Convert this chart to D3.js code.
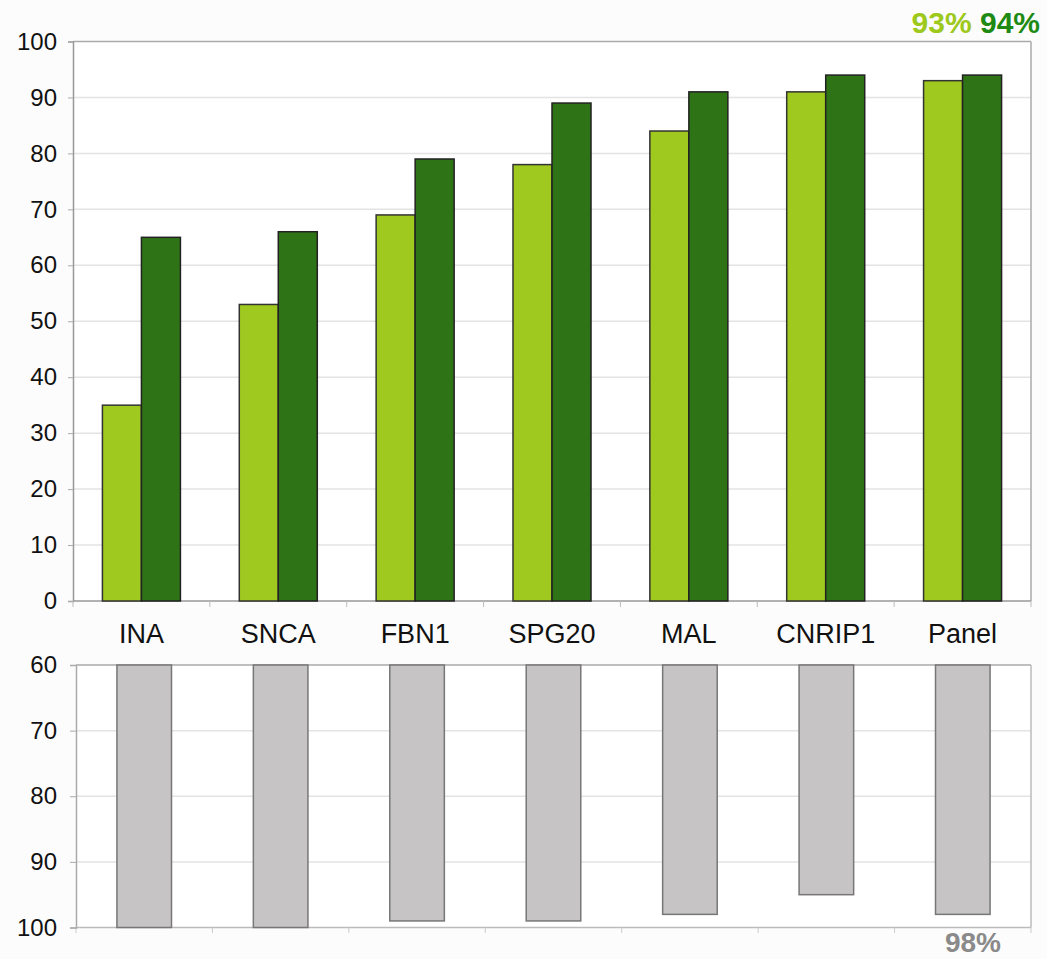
<!DOCTYPE html>
<html><head><meta charset="utf-8">
<script src="https://cdn.jsdelivr.net/npm/d3@7"></script>
<style>body{margin:0;background:#fcfcfc;} svg{display:block;}</style>
</head><body>
<svg id="c" width="1047" height="959"></svg>
<script>
const categories = ["INA","SNCA","FBN1","SPG20","MAL","CNRIP1","Panel"];
const seriesLight = [35,53,69,78,84,91,93];
const seriesDark = [65,66,79,89,91,94,94];
const bottomValues = [100,100,99,99,98,95,98];
const topTicks = [0,10,20,30,40,50,60,70,80,90,100];
const bottomTicks = [60,70,80,90,100];

const svg = d3.select("#c");
const font = "Arial, 'Liberation Sans', sans-serif";
const cLight = "#9fc91e", cDark = "#2f7317", cGray = "#c6c4c5";

// Top chart
const x1 = d3.scaleBand().domain(categories).range([73,1031]);
const y1 = d3.scaleLinear().domain([0,100]).range([601,41.5]);
const g1 = svg.append("g");
g1.append("rect").attr("x",73).attr("y",41.5).attr("width",958).attr("height",559.5).attr("fill","#fff");
g1.selectAll(".grid").data(topTicks.filter(d=>d>0&&d<100)).join("line")
  .attr("x1",73).attr("x2",1031).attr("y1",d=>y1(d)).attr("y2",d=>y1(d))
  .attr("stroke","#e3e3e3").attr("stroke-width",1.5);
g1.append("line").attr("x1",73).attr("x2",1031).attr("y1",41.5).attr("y2",41.5).attr("stroke","#aaa").attr("stroke-width",1.5);
g1.append("line").attr("x1",1031).attr("x2",1031).attr("y1",41.5).attr("y2",601).attr("stroke","#aaa").attr("stroke-width",1.5);
const ax1 = g1.append("g").attr("transform","translate(73,0)")
  .call(d3.axisLeft(y1).tickValues(topTicks).tickSize(5).tickPadding(11));
ax1.select(".domain").attr("stroke","#999").attr("stroke-width",1.5);
ax1.selectAll(".tick line").attr("stroke","#aaa");
ax1.selectAll("text").attr("font-family",font).attr("font-size",24).attr("fill","#111");
// bottom axis
g1.append("line").attr("x1",73).attr("x2",1031).attr("y1",601).attr("y2",601).attr("stroke","#999").attr("stroke-width",1.5);
g1.selectAll(".xt").data(d3.range(categories.length+1)).join("line")
  .attr("x1",i=>73+i*x1.step()).attr("x2",i=>73+i*x1.step()).attr("y1",601).attr("y2",607)
  .attr("stroke","#bbb");
const bw = x1.bandwidth()*0.285;
const grp = g1.selectAll(".grp").data(categories).join("g");
grp.append("rect").attr("x",(d)=>x1(d)+x1.bandwidth()/2-bw).attr("width",bw)
  .attr("y",(d,i)=>y1(seriesLight[i])).attr("height",(d,i)=>y1(0)-y1(seriesLight[i]))
  .attr("fill",cLight).attr("stroke","#333").attr("stroke-width",1.5);
grp.append("rect").attr("x",(d)=>x1(d)+x1.bandwidth()/2).attr("width",bw)
  .attr("y",(d,i)=>y1(seriesDark[i])).attr("height",(d,i)=>y1(0)-y1(seriesDark[i]))
  .attr("fill",cDark).attr("stroke","#222").attr("stroke-width",1.5);
g1.selectAll(".cl").data(categories).join("text")
  .attr("x",d=>x1(d)+x1.bandwidth()/2).attr("y",643).attr("text-anchor","middle")
  .attr("font-family",font).attr("font-size",27).attr("fill","#111").text(d=>d);

// Bottom chart
const x2 = d3.scaleBand().domain(categories).range([76,1031]);
const y2 = d3.scaleLinear().domain([60,100]).range([665,927.5]);
const g2 = svg.append("g");
g2.append("rect").attr("x",76).attr("y",665).attr("width",955).attr("height",262.5).attr("fill","#fff");
g2.selectAll(".grid").data([70,80,90]).join("line")
  .attr("x1",76).attr("x2",1031).attr("y1",d=>y2(d)).attr("y2",d=>y2(d))
  .attr("stroke","#e3e3e3").attr("stroke-width",1.5);
g2.append("line").attr("x1",76).attr("x2",1031).attr("y1",665).attr("y2",665).attr("stroke","#aaa").attr("stroke-width",1.5);
g2.append("line").attr("x1",1031).attr("x2",1031).attr("y1",665).attr("y2",927.5).attr("stroke","#bbb").attr("stroke-width",1.5);
g2.append("line").attr("x1",76).attr("x2",1031).attr("y1",927.5).attr("y2",927.5).attr("stroke","#bbb").attr("stroke-width",1.5);
g2.selectAll(".xt").data(d3.range(categories.length+1)).join("line")
  .attr("x1",i=>76+i*x2.step()).attr("x2",i=>76+i*x2.step()).attr("y1",927.5).attr("y2",933)
  .attr("stroke","#ccc");
const ax2 = g2.append("g").attr("transform","translate(76,0)")
  .call(d3.axisLeft(y2).tickValues(bottomTicks).tickSize(6).tickPadding(13));
ax2.select(".domain").attr("stroke","#aaa").attr("stroke-width",1.5);
ax2.selectAll(".tick line").attr("stroke","#aaa");
ax2.selectAll("text").attr("font-family",font).attr("font-size",24).attr("fill","#111");
const bw2 = x2.bandwidth()*0.4;
g2.selectAll(".gb").data(categories).join("rect")
  .attr("x",d=>x2(d)+x2.bandwidth()/2-bw2/2).attr("width",bw2)
  .attr("y",y2(60)).attr("height",(d,i)=>y2(bottomValues[i])-y2(60))
  .attr("fill",cGray).attr("stroke","#777").attr("stroke-width",1.5);

// Annotations
const ann = svg.append("text").attr("x",1040).attr("y",33).attr("text-anchor","end")
  .attr("font-family",font).attr("font-size",30).attr("font-weight","bold");
ann.append("tspan").attr("fill","#9dc81c").text(seriesLight[6]+"%");
ann.append("tspan").attr("fill","#1e8a14").text(" "+seriesDark[6]+"%");
svg.append("text").attr("x",973).attr("y",952).attr("text-anchor","middle")
  .attr("font-family",font).attr("font-size",28).attr("font-weight","bold").attr("fill","#8a8a8a")
  .text(bottomValues[6]+"%");
</script>
</body></html>
